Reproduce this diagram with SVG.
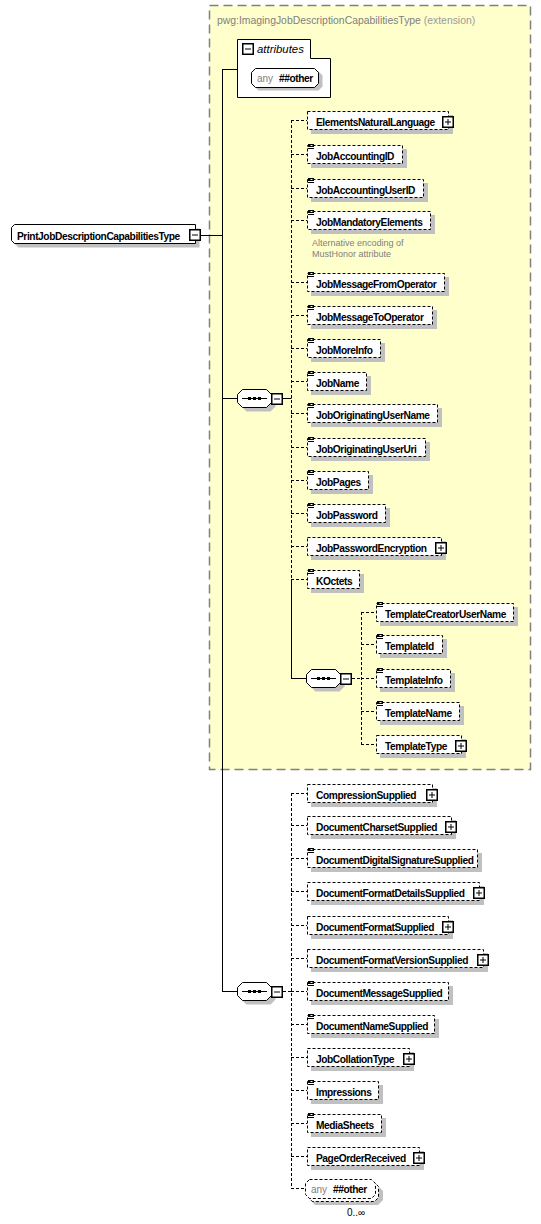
<svg xmlns="http://www.w3.org/2000/svg" xmlns:xlink="http://www.w3.org/1999/xlink" width="541" height="1224" viewBox="0 0 541 1224">
<style>
.el{fill:#fff;stroke:#000;stroke-dasharray:3,2}
.sh{fill:#c0c0c0}
.t{font-family:"Liberation Sans",Arial,sans-serif;font-size:10.2px;font-weight:bold;fill:#000;letter-spacing:-0.42px}
.g{font-family:"Liberation Sans",Arial,sans-serif;font-size:10px;fill:#808080}
.cs{stroke:#000;fill:none}
.cd{stroke:#000;fill:none;stroke-dasharray:3,2}
</style>
<defs>
<g id="plus"><rect x="0.75" y="0.75" width="10.5" height="10.5" fill="#fff" stroke="#000" stroke-width="1.5"/><path d="M3 6h6M6 3v6" stroke="#000"/></g>
<g id="minus"><rect x="0.75" y="0.75" width="10.5" height="10.5" fill="#fff" stroke="#000" stroke-width="1.5"/><path d="M3 6h6" stroke="#000"/></g>
<path id="st" d="M0 0.5h6M0 2.5h6M0 4.5h6" stroke="#000"/>
<g id="seq">
<path d="M9.5 4.5H33.5L38.5 9.5V17.5L33.5 22.5H9.5L4.5 17.5V9.5Z" fill="#c0c0c0"/>
<path d="M5.5 0.5H29.5L34.5 5.5V13.5L29.5 18.5H5.5L0.5 13.5V5.5Z" fill="#fff" stroke="#000"/>
<path d="M5 9.5H30" stroke="#000"/>
<rect x="11" y="8" width="3" height="3"/><rect x="16" y="8" width="3" height="3"/><rect x="21" y="8" width="3" height="3"/>
<use href="#minus" x="34" y="4"/>
</g>
</defs>
<rect width="541" height="1224" fill="#fff"/>
<g id="extension">
<rect x="209.5" y="5.5" width="321" height="764" fill="#ffffcc" stroke="#808080" stroke-width="1.5" stroke-dasharray="9,5"/>
<text x="217" y="24" font-family="Liberation Sans,Arial,sans-serif" font-size="10.4" fill="#808080">pwg:ImagingJobDescriptionCapabilitiesType <tspan fill="#9a9a9a">(extension)</tspan></text>
</g>
<g id="connectors">
<path class="cs" d="M222.5 69V991.5M222 69.5H237M200 235.5H222M222 398.5H237M222 991.5H237M283 398.5H291.5M291.5 579V678.5M291 678.5H306"/>
<path class="cd" d="M291.5 120V579M291 120.5H307M291 154.5H307M291 188.5H307M291 220.5H307M291 282.5H307M291 315.5H307M291 348.5H307M291 381.5H307M291 413.5H307M291 447.5H307M291 480.5H307M291 513.5H307M291 546.5H307M291 579.5H307"/>
<path class="cd" d="M352 678.5H361.5M361.5 612V744M361 612.5H376M361 644.5H376M361 678.5H376M361 711.5H376M361 744.5H376"/>
<path class="cd" d="M283 991.5H291.5M291.5 793V1188M291 793.5H307M291 825.5H307M291 858.5H307M291 891.5H307M291 925.5H307M291 958.5H307M291 991.5H307M291 1024.5H307M291 1057.5H307M291 1090.5H307M291 1123.5H307M291 1156.5H307M291 1188.5H305"/>
</g>
<g id="root">
<path class="sh" d="M18.5 228.5H199.5V247.5H18.5L15.5 244.5V231.5Z"/>
<path d="M14.5 224.5H195.5V243.5H14.5L11.5 240.5V227.5Z" fill="#fff" stroke="#000"/>
<text class="t" x="17" y="239.5">PrintJobDescriptionCapabilitiesType</text>
<use href="#minus" x="189" y="229"/>
</g>
<g id="attributes">
<path d="M237.5 39.5H310.5V58.5H330.5V97.5H237.5Z" fill="#fff" stroke="#000"/>
<use href="#minus" x="242" y="43"/>
<text x="257" y="53" font-family="Liberation Sans,Arial,sans-serif" font-size="11.4" font-style="italic" fill="#000">attributes</text>
</g>
<g id="attr-any">
<path class="sh" d="M258.5 71.5H318.5L322.5 75.5V86.5L318.5 90.5H258.5L254.5 86.5V75.5Z"/>
<path d="M255.5 68.5H314.5L318.5 72.5V83.5L314.5 87.5H255.5L251.5 83.5V72.5Z" fill="#fff" stroke="#000"/>
<text x="257" y="82" class="g">any</text><text class="t" x="279" y="82">##other</text>
</g>
<g id="seq1"><use href="#seq" x="237" y="389"/></g>
<g id="ElementsNaturalLanguage"><rect class="sh" x="311" y="115" width="142" height="19"/><rect class="el" x="307.5" y="111.5" width="141" height="18"/><text class="t" x="316" y="125.5">ElementsNaturalLanguage</text><use href="#plus" x="442" y="116"/></g>
<g id="JobAccountingID"><rect class="sh" x="311" y="149" width="96" height="19"/><rect class="el" x="307.5" y="145.5" width="95" height="18"/><use href="#st" x="308" y="144"/><text class="t" x="316" y="159.5">JobAccountingID</text></g>
<g id="JobAccountingUserID"><rect class="sh" x="311" y="183" width="117" height="19"/><rect class="el" x="307.5" y="179.5" width="116" height="18"/><use href="#st" x="308" y="178"/><text class="t" x="316" y="193.5">JobAccountingUserID</text></g>
<g id="JobMandatoryElements"><rect class="sh" x="311" y="215" width="124" height="19"/><rect class="el" x="307.5" y="211.5" width="123" height="18"/><use href="#st" x="308" y="210"/><text class="t" x="316" y="225.5">JobMandatoryElements</text>
<text x="312" y="246" font-family="Liberation Sans,Arial,sans-serif" font-size="9" fill="#808080">Alternative encoding of</text><text x="312" y="257" font-family="Liberation Sans,Arial,sans-serif" font-size="9" fill="#808080">MustHonor attribute</text></g>
<g id="JobMessageFromOperator"><rect class="sh" x="311" y="277" width="138" height="19"/><rect class="el" x="307.5" y="273.5" width="137" height="18"/><use href="#st" x="308" y="272"/><text class="t" x="316" y="287.5">JobMessageFromOperator</text></g>
<g id="JobMessageToOperator"><rect class="sh" x="311" y="310" width="126" height="19"/><rect class="el" x="307.5" y="306.5" width="125" height="18"/><use href="#st" x="308" y="305"/><text class="t" x="316" y="320.5">JobMessageToOperator</text></g>
<g id="JobMoreInfo"><rect class="sh" x="311" y="343" width="74" height="19"/><rect class="el" x="307.5" y="339.5" width="73" height="18"/><use href="#st" x="308" y="338"/><text class="t" x="316" y="353.5">JobMoreInfo</text></g>
<g id="JobName"><rect class="sh" x="311" y="376" width="60" height="19"/><rect class="el" x="307.5" y="372.5" width="59" height="18"/><use href="#st" x="308" y="371"/><text class="t" x="316" y="386.5">JobName</text></g>
<g id="JobOriginatingUserName"><rect class="sh" x="311" y="408" width="131" height="19"/><rect class="el" x="307.5" y="404.5" width="130" height="18"/><use href="#st" x="308" y="403"/><text class="t" x="316" y="418.5">JobOriginatingUserName</text></g>
<g id="JobOriginatingUserUri"><rect class="sh" x="311" y="442" width="119" height="19"/><rect class="el" x="307.5" y="438.5" width="118" height="18"/><use href="#st" x="308" y="437"/><text class="t" x="316" y="452.5">JobOriginatingUserUri</text></g>
<g id="JobPages"><rect class="sh" x="311" y="475" width="62" height="19"/><rect class="el" x="307.5" y="471.5" width="61" height="18"/><use href="#st" x="308" y="470"/><text class="t" x="316" y="485.5">JobPages</text></g>
<g id="JobPassword"><rect class="sh" x="311" y="508" width="79" height="19"/><rect class="el" x="307.5" y="504.5" width="78" height="18"/><use href="#st" x="308" y="503"/><text class="t" x="316" y="518.5">JobPassword</text></g>
<g id="JobPasswordEncryption"><rect class="sh" x="311" y="541" width="135" height="19"/><rect class="el" x="307.5" y="537.5" width="134" height="18"/><text class="t" x="316" y="551.5">JobPasswordEncryption</text><use href="#plus" x="435" y="542"/></g>
<g id="KOctets"><rect class="sh" x="311" y="574" width="53" height="19"/><rect class="el" x="307.5" y="570.5" width="52" height="18"/><use href="#st" x="308" y="569"/><text class="t" x="316" y="584.5">KOctets</text></g>
<g id="seq-template"><use href="#seq" x="306" y="669"/></g>
<g id="TemplateCreatorUserName"><rect class="sh" x="380" y="607" width="138" height="19"/><rect class="el" x="376.5" y="603.5" width="137" height="18"/><use href="#st" x="377" y="602"/><text class="t" x="385" y="617.5">TemplateCreatorUserName</text></g>
<g id="TemplateId"><rect class="sh" x="380" y="639" width="67" height="19"/><rect class="el" x="376.5" y="635.5" width="66" height="18"/><use href="#st" x="377" y="634"/><text class="t" x="385" y="649.5">TemplateId</text></g>
<g id="TemplateInfo"><rect class="sh" x="380" y="673" width="75" height="19"/><rect class="el" x="376.5" y="669.5" width="74" height="18"/><use href="#st" x="377" y="668"/><text class="t" x="385" y="683.5">TemplateInfo</text></g>
<g id="TemplateName"><rect class="sh" x="380" y="706" width="84" height="19"/><rect class="el" x="376.5" y="702.5" width="83" height="18"/><use href="#st" x="377" y="701"/><text class="t" x="385" y="716.5">TemplateName</text></g>
<g id="TemplateType"><rect class="sh" x="380" y="739" width="86" height="19"/><rect class="el" x="376.5" y="735.5" width="85" height="18"/><text class="t" x="385" y="749.5">TemplateType</text><use href="#plus" x="455" y="740"/></g>
<g id="seq2"><use href="#seq" x="237" y="982"/></g>
<g id="CompressionSupplied"><rect class="sh" x="311" y="788" width="126" height="19"/><rect class="el" x="307.5" y="784.5" width="125" height="18"/><text class="t" x="316" y="798.5">CompressionSupplied</text><use href="#plus" x="426" y="789"/></g>
<g id="DocumentCharsetSupplied"><rect class="sh" x="311" y="820" width="145" height="19"/><rect class="el" x="307.5" y="816.5" width="144" height="18"/><text class="t" x="316" y="830.5">DocumentCharsetSupplied</text><use href="#plus" x="445" y="821"/></g>
<g id="DocumentDigitalSignatureSupplied"><rect class="sh" x="311" y="853" width="171" height="19"/><rect class="el" x="307.5" y="849.5" width="170" height="18"/><use href="#st" x="308" y="848"/><text class="t" x="316" y="863.5">DocumentDigitalSignatureSupplied</text></g>
<g id="DocumentFormatDetailsSupplied"><rect class="sh" x="311" y="886" width="173" height="19"/><rect class="el" x="307.5" y="882.5" width="172" height="18"/><text class="t" x="316" y="896.5">DocumentFormatDetailsSupplied</text><use href="#plus" x="473" y="887"/></g>
<g id="DocumentFormatSupplied"><rect class="sh" x="311" y="920" width="142" height="19"/><rect class="el" x="307.5" y="916.5" width="141" height="18"/><text class="t" x="316" y="930.5">DocumentFormatSupplied</text><use href="#plus" x="442" y="921"/></g>
<g id="DocumentFormatVersionSupplied"><rect class="sh" x="311" y="953" width="177" height="19"/><rect class="el" x="307.5" y="949.5" width="176" height="18"/><text class="t" x="316" y="963.5">DocumentFormatVersionSupplied</text><use href="#plus" x="477" y="954"/></g>
<g id="DocumentMessageSupplied"><rect class="sh" x="311" y="986" width="142" height="19"/><rect class="el" x="307.5" y="982.5" width="141" height="18"/><use href="#st" x="308" y="981"/><text class="t" x="316" y="996.5">DocumentMessageSupplied</text></g>
<g id="DocumentNameSupplied"><rect class="sh" x="311" y="1019" width="128" height="19"/><rect class="el" x="307.5" y="1015.5" width="127" height="18"/><use href="#st" x="308" y="1014"/><text class="t" x="316" y="1029.5">DocumentNameSupplied</text></g>
<g id="JobCollationType"><rect class="sh" x="311" y="1052" width="103" height="19"/><rect class="el" x="307.5" y="1048.5" width="102" height="18"/><text class="t" x="316" y="1062.5">JobCollationType</text><use href="#plus" x="403" y="1053"/></g>
<g id="Impressions"><rect class="sh" x="311" y="1085" width="72" height="19"/><rect class="el" x="307.5" y="1081.5" width="71" height="18"/><use href="#st" x="308" y="1080"/><text class="t" x="316" y="1095.5">Impressions</text></g>
<g id="MediaSheets"><rect class="sh" x="311" y="1118" width="75" height="19"/><rect class="el" x="307.5" y="1114.5" width="74" height="18"/><use href="#st" x="308" y="1113"/><text class="t" x="316" y="1128.5">MediaSheets</text></g>
<g id="PageOrderReceived"><rect class="sh" x="311" y="1151" width="113" height="19"/><rect class="el" x="307.5" y="1147.5" width="112" height="18"/><text class="t" x="316" y="1161.5">PageOrderReceived</text><use href="#plus" x="413" y="1152"/></g>
<g id="any-other">
<path class="sh" d="M315 1186H378L383 1191V1200L378 1205H315L310 1200V1191Z"/>
<path class="el" d="M312.5 1182.5H374.5L378.5 1186.5V1197.5L374.5 1201.5H312.5L308.5 1197.5V1186.5Z"/>
<path class="el" d="M309.5 1179.5H371.5L375.5 1183.5V1194.5L371.5 1198.5H309.5L305.5 1194.5V1183.5Z"/>
<text x="311" y="1193" class="g">any</text><text class="t" x="333" y="1193">##other</text>
<text x="347" y="1216" font-family="Liberation Sans,Arial,sans-serif" font-size="10" fill="#000">0..∞</text>
</g>
</svg>
